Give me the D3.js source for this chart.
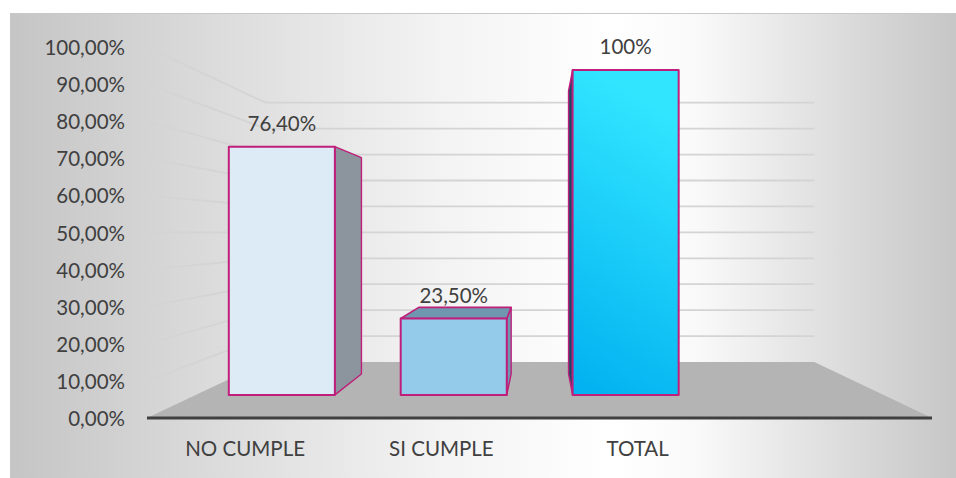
<!DOCTYPE html>
<html>
<head>
<meta charset="utf-8">
<script src="https://cdn.jsdelivr.net/npm/d3@7/dist/d3.min.js"></script>
<style>
  html, body { margin: 0; padding: 0; background: #ffffff; }
  svg { display: block; }
  text { font-family: Lato, "Open Sans", sans-serif; fill: #404040; }
</style>
</head>
<body>
<svg id="chart" width="956" height="478"></svg>
<script>
// Category slots (the last one is an empty slot in the series)
const categories = ["NO CUMPLE", "SI CUMPLE", "TOTAL", ""];
const values = [76.4, 23.5, 100, null];
const valueLabels = ["76,40%", "23,50%", "100%", ""];
const yTicks = [0, 10, 20, 30, 40, 50, 60, 70, 80, 90, 100];
const yTickLabels = ["0,00%", "10,00%", "20,00%", "30,00%", "40,00%", "50,00%",
                     "60,00%", "70,00%", "80,00%", "90,00%", "100,00%"];

const faceStyles = [
  { front: "#ddebf7", side: "#8c959e", top: "#8c959e" },
  { front: "#95cbea", side: "#6f96af", top: "#7097b0" },
  { front: "url(#gradTotal)", side: "#1c4867", top: "#1c4867" }
];

const W = 956, H = 478;
const svg = d3.select("#chart");
const defs = svg.append("defs");

// chart area background: light centre fading to grey at the sides
const bg = defs.append("linearGradient").attr("id", "bgGrad")
  .attr("x1", "0").attr("x2", "1").attr("y1", "0").attr("y2", "0");
[[0, "#c5c5c5"], [0.2, "#dadada"], [0.45, "#f3f3f3"], [0.63, "#ffffff"],
 [0.72, "#f9f9f9"], [0.86, "#dedede"], [1, "#c4c4c4"]]
  .forEach(([o, c]) => bg.append("stop").attr("offset", o).attr("stop-color", c));

const gT = defs.append("linearGradient").attr("id", "gradTotal")
  .attr("x1", "0.2").attr("x2", "0").attr("y1", "0").attr("y2", "1");
gT.append("stop").attr("offset", 0).attr("stop-color", "#31e5ff");
gT.append("stop").attr("offset", 1).attr("stop-color", "#00b0f0");

svg.append("rect").attr("x", 10.5).attr("y", 13.5)
  .attr("width", W).attr("height", H)
  .attr("fill", "url(#bgGrad)").attr("stroke", "#c8c8c8").attr("stroke-width", 1);

// ---- perspective set-up ----
const vp = [541, 232];          // vanishing point
const k = 1 / 0.699 - 1;        // depth foreshortening factor
const x = d3.scaleBand().domain(d3.range(categories.length)).range([147, 932]);
const y = d3.scaleLinear().domain([0, 100]).range([418, 47]);
const zBarFront = 0.329, zBarBack = 0.721;

function project(X, Y, z) {
  const s = 1 / (1 + k * z);
  return [vp[0] + (X - vp[0]) * s, vp[1] + (Y - vp[1]) * s];
}
const line = d3.line();

const X0 = x.range()[0], X1 = x.range()[1];

// floor
svg.append("path")
  .attr("d", line([project(X0, y(0), 0), project(X1, y(0), 0),
                   project(X1, y(0), 1), project(X0, y(0), 1)]) + "Z")
  .attr("fill", "#b4b4b4");

// gridlines on the side wall and back wall
const grid = svg.append("g").attr("fill", "none").attr("stroke", "#d4d4d4").attr("stroke-width", 1.8);
yTicks.filter(v => v > 0).forEach(v => {
  grid.append("path").attr("d", line([project(X0, y(v), 0), project(X0, y(v), 1), project(X1, y(v), 1)]));
});

// front axis line
svg.append("path")
  .attr("d", line([project(X0, y(0), 0), project(X1, y(0), 0)]))
  .attr("stroke", "#404040").attr("stroke-width", 3);

// bars
const barW = x.bandwidth() * 0.617;
const bars = svg.append("g");
values.forEach((v, i) => {
  if (v == null) return;
  const st = faceStyles[i];
  const xl = x(i) + (x.bandwidth() - barW) / 2, xr = xl + barW;
  const yb = y(0), yt = y(v);
  const F = (X, Y) => project(X, Y, zBarFront);
  const B = (X, Y) => project(X, Y, zBarBack);
  const g = bars.append("g").attr("stroke", "#bf1f7a").attr("stroke-linejoin", "round");
  const cx = (xl + xr) / 2;
  // side face (faces the vanishing point)
  const sx = cx < vp[0] ? xr : xl;
  g.append("path")
    .attr("d", line([F(sx, yb), F(sx, yt), B(sx, yt), B(sx, yb)]) + "Z")
    .attr("fill", st.side).attr("stroke-width", 1.4);
  // top face when below eye level
  if (yt > vp[1]) {
    g.append("path")
      .attr("d", line([F(xl, yt), F(xr, yt), B(xr, yt), B(xl, yt)]) + "Z")
      .attr("fill", st.top).attr("stroke-width", 1.6);
  }
  // front face
  const p0 = F(xl, yt), p1 = F(xr, yb);
  g.append("rect")
    .attr("x", p0[0]).attr("y", p0[1])
    .attr("width", p1[0] - p0[0]).attr("height", p1[1] - p0[1])
    .attr("fill", st.front).attr("stroke-width", 2);
  // value label
  const lp = F(cx, yt);
  svg.append("text").attr("x", lp[0]).attr("y", lp[1] - 24)
    .attr("text-anchor", "middle").attr("dominant-baseline", "central")
    .attr("font-size", 20.5).text(valueLabels[i]);
});

// y tick labels
svg.append("g").selectAll("text").data(yTicks).join("text")
  .attr("x", 125).attr("y", d => y(d))
  .attr("text-anchor", "end").attr("dominant-baseline", "central")
  .attr("font-size", 20.5).text((d, i) => yTickLabels[i]);

// category labels
svg.append("g").selectAll("text").data(categories).join("text")
  .attr("x", (d, i) => x(i) + x.bandwidth() / 2).attr("y", 448)
  .attr("text-anchor", "middle").attr("dominant-baseline", "central")
  .attr("font-size", 20.5).text(d => d);
</script>
</body>
</html>
